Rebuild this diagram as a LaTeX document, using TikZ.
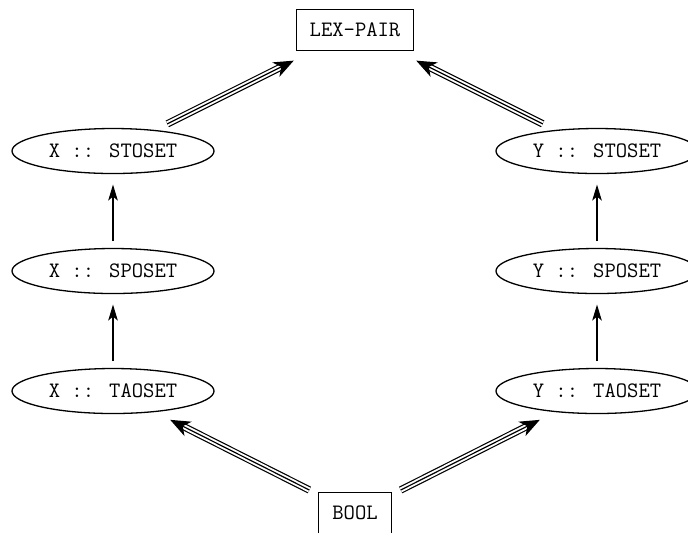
\documentclass[tikz,border=0pt]{standalone}
\usetikzlibrary{shapes.geometric,arrows.meta}
\begin{document}
\begin{tikzpicture}[x=0.5pt,y=-0.5pt,
  every node/.style={font=\fontsize{11}{13}\selectfont\ttfamily},
  boxnode/.style={draw, line width=0.65pt, inner sep=0pt, minimum height=20.5pt},
  ellnode/.style={draw, ellipse, line width=0.65pt, inner sep=0pt, minimum width=101pt, minimum height=22.5pt},
  sarrow/.style={line width=0.6pt, -{Stealth[length=8pt,width=4.8pt,inset=2pt]}},
  trishaft/.style={double, double distance=2.5pt, line width=0.6pt},
  trimid/.style={line width=0.6pt, -{Stealth[length=10pt,width=8pt,inset=3pt]}}]
\useasboundingbox (0,0) rectangle (688,532);
\node[boxnode, minimum width=58.5pt] (lex) at (355,30) {LEX-PAIR};
\node[boxnode, minimum width=36.5pt] (bool) at (355,513) {BOOL};
\node[ellnode] (xst) at (113,151) {X :: STOSET};
\node[ellnode] (xsp) at (113,271) {X :: SPOSET};
\node[ellnode] (xta) at (113,391) {X :: TAOSET};
\node[ellnode] (yst) at (597,151) {Y :: STOSET};
\node[ellnode] (ysp) at (597,271) {Y :: SPOSET};
\node[ellnode] (yta) at (597,391) {Y :: TAOSET};
% single arrows
\draw[sarrow, shorten <=3.4pt, shorten >=5.2pt] (xta) -- (xsp);
\draw[sarrow, shorten <=3.4pt, shorten >=5.2pt] (xsp) -- (xst);
\draw[sarrow, shorten <=3.4pt, shorten >=5.2pt] (yta) -- (ysp);
\draw[sarrow, shorten <=3.4pt, shorten >=5.2pt] (ysp) -- (yst);
% triple arrows
\draw[trishaft, shorten <=6.8pt, shorten >=16.6pt] (xst) -- (lex);
\draw[trimid, shorten <=6.8pt, shorten >=10.6pt] (xst) -- (lex);
\draw[trishaft, shorten <=6.8pt, shorten >=16.6pt] (yst) -- (lex);
\draw[trimid, shorten <=6.8pt, shorten >=10.6pt] (yst) -- (lex);
\draw[trishaft, shorten <=4.8pt, shorten >=14.6pt] (bool) -- (xta);
\draw[trimid, shorten <=4.8pt, shorten >=8.6pt] (bool) -- (xta);
\draw[trishaft, shorten <=4.8pt, shorten >=14.6pt] (bool) -- (yta);
\draw[trimid, shorten <=4.8pt, shorten >=8.6pt] (bool) -- (yta);
\end{tikzpicture}
\end{document}
